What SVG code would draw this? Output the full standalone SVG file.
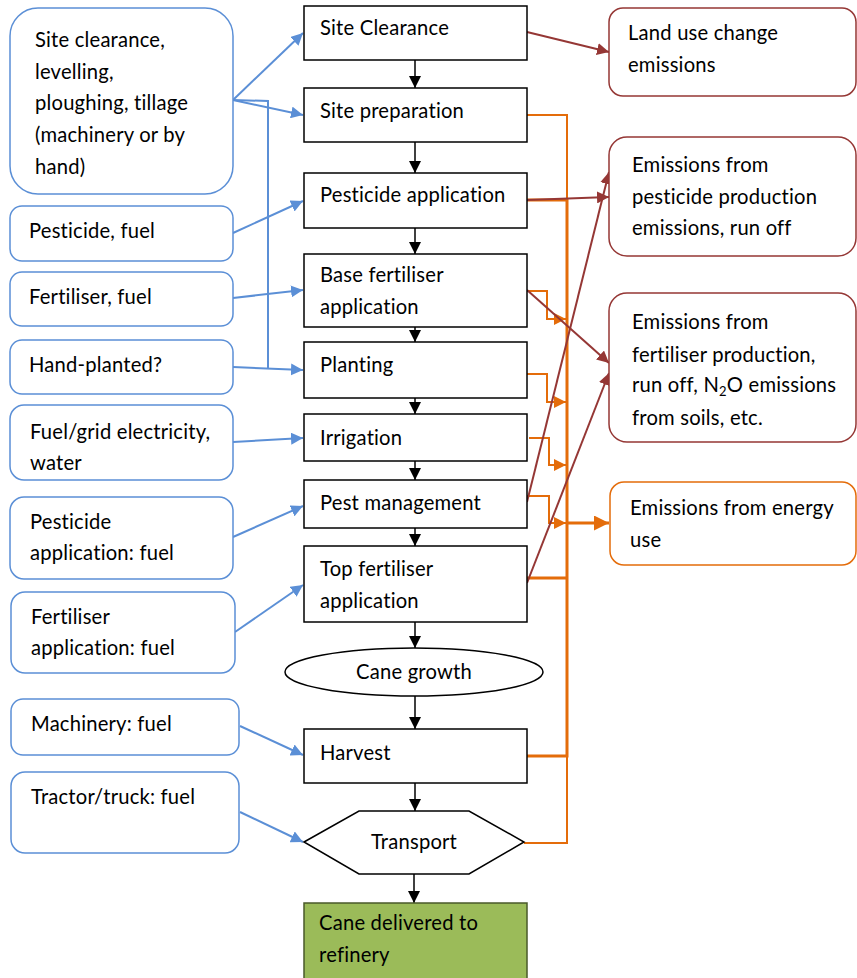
<svg xmlns="http://www.w3.org/2000/svg" width="857" height="978" viewBox="0 0 857 978">
<style>
text{font-family:Lato,"Open Sans","Liberation Sans",sans-serif;font-size:20.2px;letter-spacing:0.2px;fill:#000}
.proc{fill:#fff;stroke:#000;stroke-width:1.5}
.inp{fill:#fff;stroke:#5B8FD6;stroke-width:1.5}
.red{fill:#fff;stroke:#953735;stroke-width:1.5}
.org{fill:#fff;stroke:#E46C0A;stroke-width:1.5}
.bk{stroke:#000;stroke-width:1.5;fill:none;marker-end:url(#mk)}
.bl{stroke:#5B8FD6;stroke-width:2;fill:none;marker-end:url(#mb)}
.bln{stroke:#5B8FD6;stroke-width:2;fill:none}
.rd{stroke:#953735;stroke-width:2;fill:none;marker-end:url(#mr)}
.or{stroke:#E46C0A;stroke-width:2;fill:none;marker-end:url(#mo)}
.orn{stroke:#E46C0A;stroke-width:2;fill:none}
.ort{stroke:#E46C0A;stroke-width:3;fill:none}
</style>
<defs>
<marker id="mk" markerWidth="12" markerHeight="12" refX="10" refY="5" orient="auto" markerUnits="userSpaceOnUse" viewBox="0 0 10 10"><path d="M0,0L10,5L0,10z" fill="#000"/></marker>
<marker id="mb" markerWidth="12" markerHeight="12" refX="10" refY="5" orient="auto" markerUnits="userSpaceOnUse" viewBox="0 0 10 10"><path d="M0,0L10,5L0,10z" fill="#5B8FD6"/></marker>
<marker id="mr" markerWidth="12" markerHeight="12" refX="10" refY="5" orient="auto" markerUnits="userSpaceOnUse" viewBox="0 0 10 10"><path d="M0,0L10,5L0,10z" fill="#953735"/></marker>
<marker id="mo" markerWidth="12" markerHeight="12" refX="10" refY="5" orient="auto" markerUnits="userSpaceOnUse" viewBox="0 0 10 10"><path d="M0,0L10,5L0,10z" fill="#E46C0A"/></marker>
<marker id="mo2" markerWidth="15" markerHeight="15" refX="10" refY="5" orient="auto" markerUnits="userSpaceOnUse" viewBox="0 0 10 10"><path d="M0,0L10,5L0,10z" fill="#E46C0A"/></marker>
</defs>

<g id="connectors">
<line class="bk" x1="415" y1="60" x2="415" y2="88"/>
<line class="bk" x1="415" y1="142" x2="415" y2="173"/>
<line class="bk" x1="415" y1="228" x2="415" y2="254"/>
<line class="bk" x1="415" y1="327" x2="415" y2="342"/>
<line class="bk" x1="415" y1="398" x2="415" y2="414"/>
<line class="bk" x1="415" y1="461" x2="415" y2="480"/>
<line class="bk" x1="415" y1="528" x2="415" y2="546"/>
<line class="bk" x1="415" y1="622" x2="415" y2="648"/>
<line class="bk" x1="415" y1="696" x2="415" y2="729"/>
<line class="bk" x1="415" y1="783" x2="415" y2="811"/>
<line class="bk" x1="414" y1="874" x2="414" y2="903"/>
<line class="bl" x1="233" y1="100" x2="303" y2="33"/>
<line class="bl" x1="233" y1="100" x2="303" y2="115"/>
<polyline class="bln" points="233,100 268,101 268,368"/>
<line class="bl" x1="233" y1="233" x2="303" y2="201"/>
<line class="bl" x1="233" y1="298" x2="303" y2="290"/>
<line class="bl" x1="233" y1="367" x2="303" y2="370"/>
<line class="bl" x1="233" y1="442" x2="303" y2="438"/>
<line class="bl" x1="233" y1="537" x2="303" y2="506"/>
<line class="bl" x1="235" y1="632" x2="303" y2="585"/>
<line class="bl" x1="240" y1="726" x2="303" y2="755"/>
<line class="bl" x1="240" y1="812" x2="303" y2="842"/>
<polyline class="orn" points="527,115 567,115 567,200"/>
<polyline class="ort" points="527,200 567,200 567,756 527,756"/>
<polyline class="orn" points="567,756 567,843 524,843"/>
<line class="ort" x1="527" y1="578" x2="567" y2="578"/>
<polyline class="or" points="527,291 547,291 547,319 566,319"/>
<polyline class="or" points="527,374 547,374 547,402 566,402"/>
<polyline class="or" points="529,438 549,438 549,465 566,465"/>
<polyline class="or" points="527,496 549,496 549,523 566,523"/>
<line stroke="#E46C0A" stroke-width="3" x1="567" y1="523" x2="609" y2="523" marker-end="url(#mo2)"/>
<line class="rd" x1="527" y1="32" x2="609" y2="52"/>
<line class="rd" x1="527" y1="200" x2="609" y2="197"/>
<line class="rd" x1="527" y1="290" x2="609" y2="363"/>
<line class="rd" x1="527" y1="502" x2="609" y2="172"/>
<line class="rd" x1="527" y1="583" x2="609" y2="373"/>
</g>

<g id="n-site-clearance"><rect class="proc" x="304" y="6" width="223" height="54"/><text x="320" y="35">Site Clearance</text></g>
<g id="n-site-prep"><rect class="proc" x="304" y="88" width="223" height="54"/><text x="320" y="118">Site preparation</text></g>
<g id="n-pest-app"><rect class="proc" x="304" y="173" width="223" height="55"/><text x="320" y="202">Pesticide application</text></g>
<g id="n-base-fert"><rect class="proc" x="304" y="254" width="223" height="73"/><text x="320" y="282">Base fertiliser</text><text x="320" y="314">application</text></g>
<g id="n-planting"><rect class="proc" x="304" y="342" width="223" height="56"/><text x="320" y="372">Planting</text></g>
<g id="n-irrigation"><rect class="proc" x="304" y="414" width="223" height="47"/><text x="320" y="445">Irrigation</text></g>
<g id="n-pest-mgmt"><rect class="proc" x="304" y="480" width="223" height="48"/><text x="320" y="510">Pest management</text></g>
<g id="n-top-fert"><rect class="proc" x="304" y="546" width="223" height="76"/><text x="320" y="576">Top fertiliser</text><text x="320" y="608">application</text></g>
<g id="n-cane-growth"><ellipse class="proc" cx="414" cy="672" rx="129" ry="24"/><text x="414" y="679" text-anchor="middle">Cane growth</text></g>
<g id="n-harvest"><rect class="proc" x="304" y="729" width="223" height="54"/><text x="320" y="760">Harvest</text></g>
<g id="n-transport"><polygon class="proc" points="304,842 359,811 469,811 524,842 469,874 359,874"/><text x="414" y="849" text-anchor="middle">Transport</text></g>
<g id="n-delivered"><rect x="304" y="903" width="223" height="80" fill="#9BBB59" stroke="#4a5a2a" stroke-width="1.5"/><text x="319" y="930">Cane delivered to</text><text x="319" y="962">refinery</text></g>

<g id="i-site"><rect class="inp" x="10" y="8" width="223" height="186" rx="28"/><text x="35" y="47">Site clearance,</text><text x="35" y="79">levelling,</text><text x="35" y="110">ploughing, tillage</text><text x="35" y="142">(machinery or by</text><text x="35" y="174">hand)</text></g>
<g id="i-pest"><rect class="inp" x="10" y="206" width="223" height="55" rx="12"/><text x="29" y="238">Pesticide, fuel</text></g>
<g id="i-fert"><rect class="inp" x="10" y="272" width="223" height="54" rx="12"/><text x="29" y="304">Fertiliser, fuel</text></g>
<g id="i-hand"><rect class="inp" x="10" y="340" width="223" height="54" rx="12"/><text x="29" y="372">Hand-planted?</text></g>
<g id="i-fuelgrid"><rect class="inp" x="10" y="405" width="223" height="75" rx="14"/><text x="30" y="439">Fuel/grid electricity,</text><text x="30" y="470">water</text></g>
<g id="i-pestapp"><rect class="inp" x="10" y="497" width="223" height="82" rx="14"/><text x="30" y="529">Pesticide</text><text x="30" y="560">application:  fuel</text></g>
<g id="i-fertapp"><rect class="inp" x="11" y="592" width="224" height="81" rx="14"/><text x="31" y="624">Fertiliser</text><text x="31" y="655">application: fuel</text></g>
<g id="i-mach"><rect class="inp" x="11" y="699" width="228" height="56" rx="12"/><text x="31" y="731">Machinery: fuel</text></g>
<g id="i-tractor"><rect class="inp" x="11" y="772" width="228" height="81" rx="14"/><text x="31" y="804">Tractor/truck: fuel</text></g>

<g id="e-landuse"><rect class="red" x="609" y="8" width="247" height="88" rx="14"/><text x="628" y="40">Land use change</text><text x="628" y="72">emissions</text></g>
<g id="e-pest"><rect class="red" x="609" y="137" width="247" height="119" rx="18"/><text x="632" y="172">Emissions from</text><text x="632" y="204">pesticide production</text><text x="632" y="235">emissions, run off</text></g>
<g id="e-fert"><rect class="red" x="609" y="293" width="247" height="149" rx="18"/><text x="632" y="329">Emissions from</text><text x="632" y="362">fertiliser production,</text><text x="632" y="392">run off, N<tspan font-size="13" dy="4">2</tspan><tspan dy="-4">O emissions</tspan></text><text x="632" y="425">from soils, etc.</text></g>
<g id="e-energy"><rect class="org" x="610" y="482" width="246" height="83" rx="14"/><text x="630" y="515">Emissions from energy</text><text x="630" y="547">use</text></g>
</svg>
